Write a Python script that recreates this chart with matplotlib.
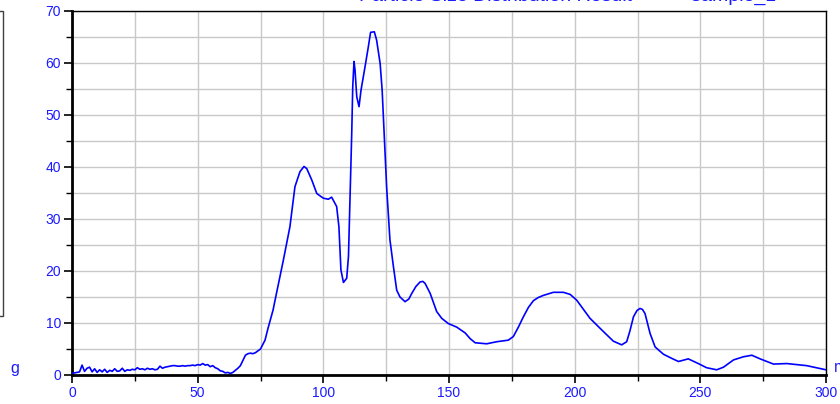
import matplotlib

matplotlib.use("Agg")
import matplotlib.pyplot as plt
from matplotlib.patches import Rectangle
from matplotlib.ticker import MultipleLocator

BLUE = "#1a1aff"
GRID = "#c8c8c8"

# noisy low baseline, 0..73
x_low = list(range(0, 74))
y_low = [0.3, 0.4, 0.5, 0.6, 1.9, 0.7, 1.3, 1.5, 0.6, 1.2,
         0.5, 1.0, 0.6, 1.1, 0.5, 0.9, 0.7, 1.2, 0.7, 0.8,
         1.3, 0.7, 1.0, 0.9, 1.1, 1.0, 1.4, 1.1, 1.2, 1.0,
         1.3, 1.1, 1.2, 1.0, 1.1, 1.7, 1.3, 1.5, 1.6, 1.7,
         1.8, 1.8, 1.7, 1.7, 1.8, 1.7, 1.8, 1.8, 1.9, 1.8,
         2.0, 1.9, 2.2, 1.9, 2.0, 1.6, 1.8, 1.4, 1.2, 0.8,
         0.7, 0.4, 0.5, 0.3, 0.5, 0.9, 1.3, 1.8, 2.8, 3.8,
         4.1, 4.2, 4.1, 4.3]

# main peaks
x_main = [75, 76.8, 78, 80, 80.8, 84.1, 86.7, 88.7, 90.7, 92.3, 93.4, 95.4,
          97.4, 100, 102, 103.3, 105.3, 106.2, 107, 108, 109.3, 110, 110.6,
          111.3, 111.7, 112.2, 112.6, 113.3, 114.2, 115, 116.6, 117.9, 118.8,
          120.3, 121.2, 122.6, 123.4, 124.2, 125.2, 126.5, 127.9, 129.2,
          130.5, 132.5, 134, 135.2, 136.8, 138.5, 139.6, 140.5, 142.5, 145.1,
          147.1, 149.7, 153.1, 156.4, 158.4, 160.4, 165, 169, 173.6, 175.6,
          177.6, 179.6, 181.6, 183.6, 185.5, 187.5, 191.5, 195.5, 198.2,
          200.8, 206.1, 210.7, 215.4, 218.7, 220.7, 222, 223.4, 224.8, 226,
          227, 228, 230, 232, 235.3, 238.6, 241.3, 245.2, 249.2, 252.5,
          256.5, 259.2, 263.2, 267.1, 270.5, 273.8, 279.1, 284.4, 292.3, 300]
y_main = [5.0, 6.7, 9.0, 12.5, 14.4, 22.1, 28.5, 36.2, 39.1, 40.1, 39.7, 37.5,
          34.9, 34.0, 33.8, 34.2, 32.4, 28.5, 20.2, 17.8, 18.6, 22.8, 33.7,
          46.5, 55.4, 60.3, 58.7, 53.5, 51.6, 54.8, 59.3, 63.1, 65.9,
          66.0, 64.4, 59.9, 54.8, 46.5, 36.0, 26.0, 20.8, 16.3,
          15.0, 14.1, 14.6, 15.7, 17.0, 17.9, 18.0, 17.6, 15.7, 12.2,
          10.9, 9.9, 9.2, 8.1, 7.0, 6.2, 6.0, 6.4, 6.7, 7.4,
          9.2, 11.2, 13.0, 14.3, 14.9, 15.3, 15.9, 15.9, 15.5,
          14.4, 10.9, 8.7, 6.5, 5.8, 6.4, 8.5, 11.2, 12.4, 12.8,
          12.6, 11.8, 8.0, 5.4, 4.0, 3.2, 2.6, 3.1, 2.2, 1.4,
          1.0, 1.5, 2.9, 3.5, 3.8, 3.1, 2.1, 2.2, 1.8, 1.0]

x_vals = x_low + x_main
y_vals = y_low + y_main

plt.rcParams["font.family"] = ["Liberation Sans", "DejaVu Sans"]

fig = plt.figure(figsize=(8.4, 4.04), dpi=100)
ax = fig.add_axes([72 / 840, 29 / 404, 754 / 840, 364 / 404])

ax.plot(x_vals, y_vals, color="#0000ff", lw=1.2, zorder=3)

ax.set_xlim(0, 300)
ax.set_ylim(0, 70)
ax.xaxis.set_major_locator(MultipleLocator(50))
ax.xaxis.set_minor_locator(MultipleLocator(25))
ax.yaxis.set_major_locator(MultipleLocator(10))
ax.yaxis.set_minor_locator(MultipleLocator(5))
ax.grid(True, which="both", color=GRID, lw=1.0, zorder=0)
ax.set_axisbelow(True)

ax.tick_params(which="major", direction="out", length=6, width=1.2,
               colors="black", labelcolor=BLUE, labelsize=10, pad=2)
ax.tick_params(which="minor", direction="out", length=4, width=1.0, colors="black")

for side in ("left", "bottom"):
    ax.spines[side].set_linewidth(2.0)
for side in ("top", "right"):
    ax.spines[side].set_linewidth(1.0)

# axis unit labels
fig.text(15 / 840, 1 - 368 / 404, "g", color=BLUE, fontsize=11.5,
         ha="center", va="center")
fig.text(834 / 840, 1 - 368 / 404, "m", color=BLUE, fontsize=11.5,
         ha="left", va="center")

# title, mostly outside the top edge
fig.text(568 / 840, 1 - 0.4 / 404, "Particle Size Distribution Result           sample_1",
         color=BLUE, fontsize=14, ha="center", va="baseline")

# legend box cut off on the left
fig.add_artist(Rectangle((-0.05, 1 - 316 / 404), 0.05 + 3 / 840, 305 / 404,
                         transform=fig.transFigure, fill=False,
                         ec="#404040", lw=1.0))

fig.savefig("out.png", dpi=100)
